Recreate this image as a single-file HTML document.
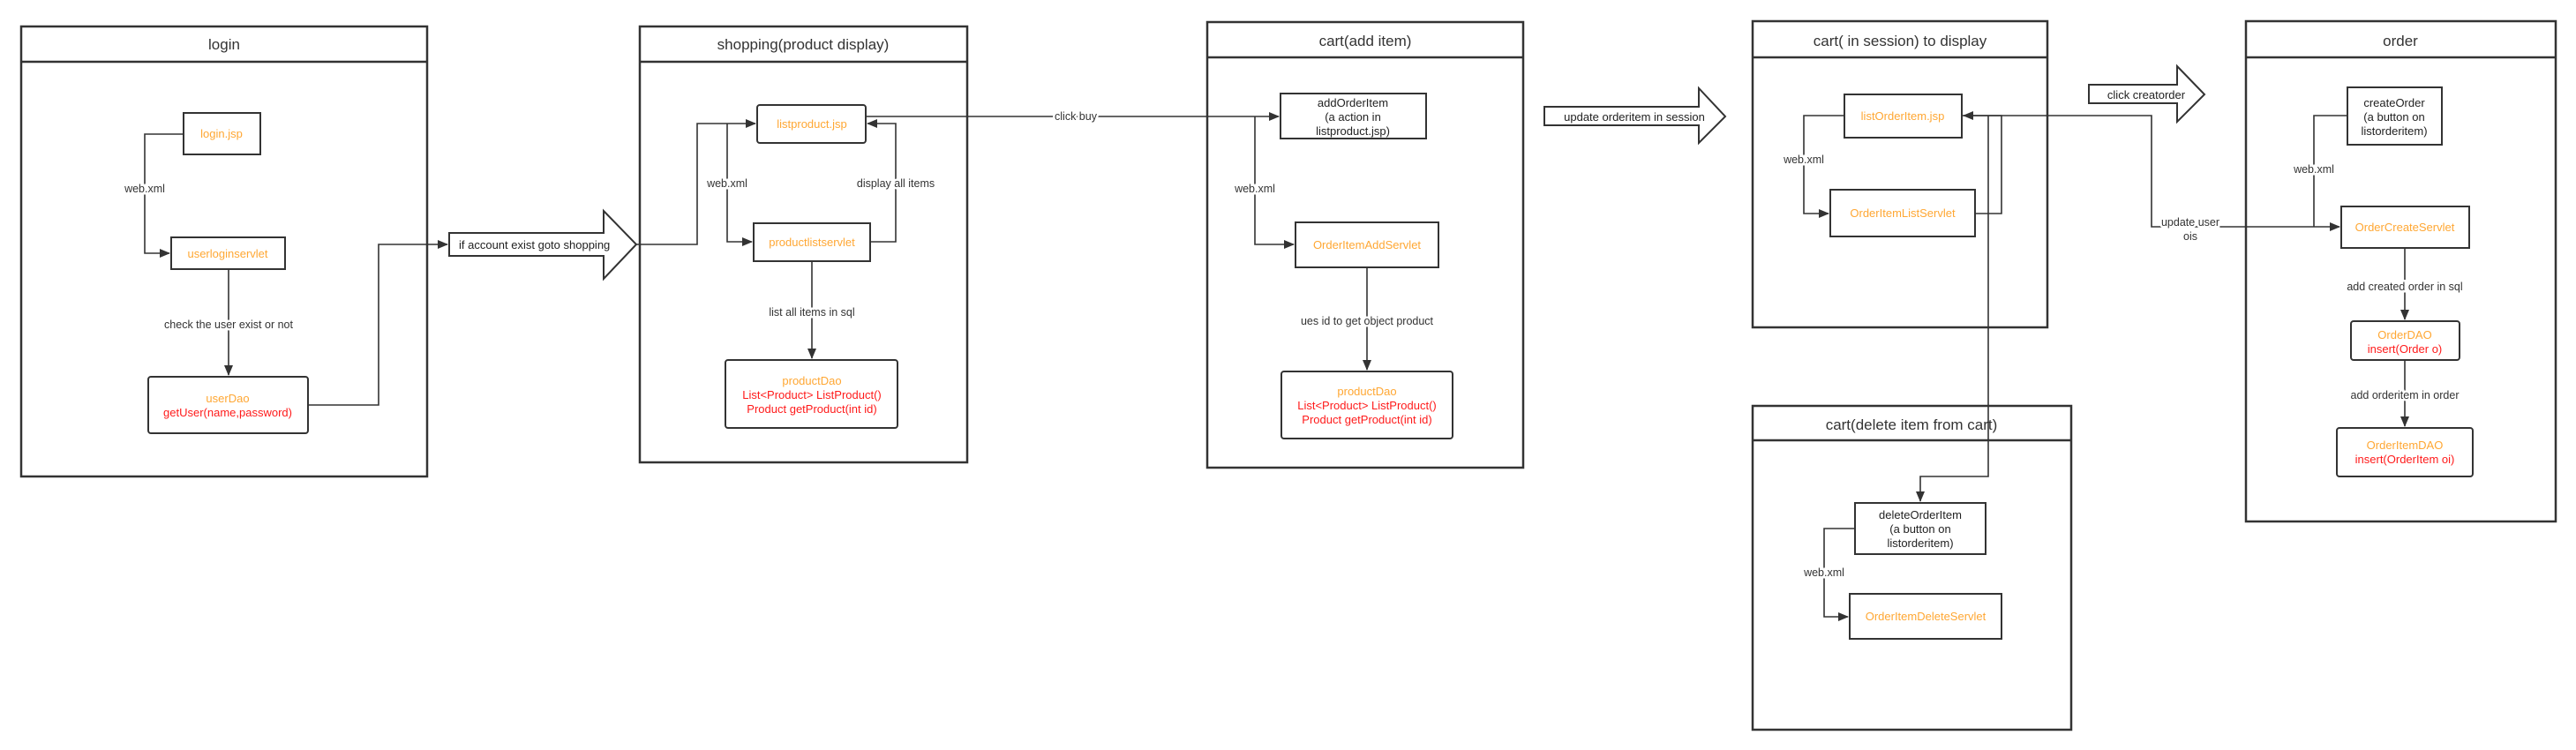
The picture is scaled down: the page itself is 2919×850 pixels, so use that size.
<!DOCTYPE html>
<html><head><meta charset="utf-8"><style>
html,body{margin:0;padding:0;background:#fff;width:2919px;height:850px;overflow:hidden}
svg text{font-family:"Liberation Sans",sans-serif}
.t{font-size:17px;fill:#333}
.l{font-size:12.5px;fill:#333;paint-order:stroke;stroke:#fff;stroke-width:5px}
.o{font-size:13px;fill:#ffa733}
.r{font-size:13px;fill:#ff1a1a}
.b{font-size:13px;fill:#222}
.p{fill:none;stroke:#333;stroke-width:2.5}
.n{fill:#fff;stroke:#333;stroke-width:2}
.c{fill:none;stroke:#333;stroke-width:1.6}
</style></head><body>
<svg width="2919" height="850" xmlns="http://www.w3.org/2000/svg">
<defs><marker id="a" markerWidth="12" markerHeight="10" refX="11" refY="5" orient="auto" markerUnits="userSpaceOnUse"><path d="M0,0 L12,5 L0,10 z" fill="#333"/></marker></defs>

<!-- panels -->
<rect class="p" x="24" y="30" width="460" height="510"/><line class="p" x1="24" y1="70" x2="484" y2="70"/>
<text class="t" x="254" y="56" text-anchor="middle">login</text>
<rect class="p" x="725" y="30" width="371" height="494"/><line class="p" x1="725" y1="70" x2="1096" y2="70"/>
<text class="t" x="910" y="56" text-anchor="middle">shopping(product display)</text>
<rect class="p" x="1368" y="25" width="358" height="505"/><line class="p" x1="1368" y1="65" x2="1726" y2="65"/>
<text class="t" x="1547" y="52" text-anchor="middle">cart(add item)</text>
<rect class="p" x="1986" y="24" width="334" height="347"/><line class="p" x1="1986" y1="65" x2="2320" y2="65"/>
<text class="t" x="2153" y="52" text-anchor="middle">cart( in session) to display</text>
<rect class="p" x="2545" y="24" width="351" height="567"/><line class="p" x1="2545" y1="65" x2="2896" y2="65"/>
<text class="t" x="2720" y="52" text-anchor="middle">order</text>
<rect class="p" x="1986" y="460" width="361" height="367"/><line class="p" x1="1986" y1="499" x2="2347" y2="499"/>
<text class="t" x="2166" y="487" text-anchor="middle">cart(delete item from cart)</text>

<!-- login -->
<rect class="n" x="208" y="128" width="87" height="47"/><text class="o" x="251" y="156" text-anchor="middle">login.jsp</text>
<rect class="n" x="194" y="269" width="129" height="36"/><text class="o" x="258" y="292" text-anchor="middle">userloginservlet</text>
<rect class="n" x="168" y="427" width="181" height="64" rx="3"/>
<text class="o" x="258" y="456" text-anchor="middle">userDao</text><text class="r" x="258" y="472" text-anchor="middle">getUser(name,password)</text>
<polyline class="c" points="208,152 164,152 164,287 192,287" marker-end="url(#a)"/>
<text class="l" x="164" y="218" text-anchor="middle">web.xml</text>
<line class="c" x1="259" y1="305" x2="259" y2="425" marker-end="url(#a)"/>
<text class="l" x="259" y="372" text-anchor="middle">check the user exist or not</text>
<polyline class="c" points="349,459 429,459 429,277 507,277" marker-end="url(#a)"/>
<path class="n" d="M509,264 L684,264 L684,239 L721,277 L684,316 L684,290 L509,290 Z"/>
<text class="b" x="520" y="282">if account exist goto shopping</text>
<polyline class="c" points="721,277 790,277 790,140 856,140" marker-end="url(#a)"/>

<!-- shopping -->
<rect class="n" x="858" y="119" width="123" height="43" rx="3"/><text class="o" x="920" y="145" text-anchor="middle">listproduct.jsp</text>
<rect class="n" x="854" y="253" width="132" height="43"/><text class="o" x="920" y="279" text-anchor="middle">productlistservlet</text>
<rect class="n" x="822" y="408" width="195" height="77" rx="3"/>
<text class="o" x="920" y="436" text-anchor="middle">productDao</text>
<text class="r" x="920" y="452" text-anchor="middle">List&lt;Product&gt; ListProduct()</text>
<text class="r" x="920" y="468" text-anchor="middle">Product getProduct(int id)</text>
<polyline class="c" points="824,140 824,274 852,274" marker-end="url(#a)"/>
<text class="l" x="824" y="212" text-anchor="middle">web.xml</text>
<polyline class="c" points="986,274 1015,274 1015,140 983,140" marker-end="url(#a)"/>
<text class="l" x="1015" y="212" text-anchor="middle">display all items</text>
<line class="c" x1="920" y1="296" x2="920" y2="406" marker-end="url(#a)"/>
<text class="l" x="920" y="358" text-anchor="middle">list all items in sql</text>
<polyline class="c" points="981,132 1449,132" marker-end="url(#a)"/>
<text class="l" x="1219" y="136" text-anchor="middle">click buy</text>

<!-- cart add -->
<rect class="n" x="1451" y="106" width="165" height="51"/>
<text class="b" x="1533" y="121" text-anchor="middle">addOrderItem</text>
<text class="b" x="1533" y="137" text-anchor="middle">(a action in</text>
<text class="b" x="1533" y="153" text-anchor="middle">listproduct.jsp)</text>
<rect class="n" x="1468" y="252" width="162" height="51"/><text class="o" x="1549" y="282" text-anchor="middle">OrderItemAddServlet</text>
<rect class="n" x="1452" y="421" width="194" height="76" rx="3"/>
<text class="o" x="1549" y="448" text-anchor="middle">productDao</text>
<text class="r" x="1549" y="464" text-anchor="middle">List&lt;Product&gt; ListProduct()</text>
<text class="r" x="1549" y="480" text-anchor="middle">Product getProduct(int id)</text>
<polyline class="c" points="1422,132 1422,277 1466,277" marker-end="url(#a)"/>
<text class="l" x="1422" y="218" text-anchor="middle">web.xml</text>
<line class="c" x1="1549" y1="303" x2="1549" y2="419" marker-end="url(#a)"/>
<text class="l" x="1549" y="368" text-anchor="middle">ues id to get object product</text>
<path class="n" d="M1750,121 L1925,121 L1925,100 L1955,132 L1925,162 L1925,142 L1750,142 Z"/>
<text class="b" x="1852" y="137" text-anchor="middle">update orderitem in session</text>

<!-- cart session -->
<rect class="n" x="2090" y="107" width="133" height="49"/><text class="o" x="2156" y="136" text-anchor="middle">listOrderItem.jsp</text>
<rect class="n" x="2074" y="215" width="164" height="53"/><text class="o" x="2156" y="246" text-anchor="middle">OrderItemListServlet</text>
<polyline class="c" points="2090,131 2044,131 2044,242 2072,242" marker-end="url(#a)"/>
<text class="l" x="2044" y="185" text-anchor="middle">web.xml</text>
<polyline class="c" points="2238,242 2268,242 2268,131 2225,131" marker-end="url(#a)"/>
<polyline class="c" points="2253,131 2253,540 2176,540 2176,568" marker-end="url(#a)"/>
<polyline class="c" points="2223,131 2438,131 2438,257 2651,257" marker-end="url(#a)"/>
<text class="l" x="2482" y="256" text-anchor="middle">update user</text>
<text class="l" x="2482" y="272" text-anchor="middle">ois</text>
<path class="n" d="M2367,96 L2467,96 L2467,75 L2498,107 L2467,138 L2467,117 L2367,117 Z"/>
<text class="b" x="2432" y="112" text-anchor="middle">click creatorder</text>

<!-- order -->
<rect class="n" x="2660" y="99" width="107" height="65"/>
<text class="b" x="2713" y="121" text-anchor="middle">createOrder</text>
<text class="b" x="2713" y="137" text-anchor="middle">(a button on</text>
<text class="b" x="2713" y="153" text-anchor="middle">listorderitem)</text>
<rect class="n" x="2653" y="234" width="145" height="47"/><text class="o" x="2725" y="262" text-anchor="middle">OrderCreateServlet</text>
<rect class="n" x="2664" y="364" width="123" height="44" rx="3"/>
<text class="o" x="2725" y="384" text-anchor="middle">OrderDAO</text><text class="r" x="2725" y="400" text-anchor="middle">insert(Order o)</text>
<rect class="n" x="2648" y="485" width="154" height="55" rx="3"/>
<text class="o" x="2725" y="509" text-anchor="middle">OrderItemDAO</text><text class="r" x="2725" y="525" text-anchor="middle">insert(OrderItem oi)</text>
<polyline class="c" points="2660,131 2622,131 2622,257" />
<text class="l" x="2622" y="196" text-anchor="middle">web.xml</text>
<line class="c" x1="2725" y1="281" x2="2725" y2="362" marker-end="url(#a)"/>
<text class="l" x="2725" y="329" text-anchor="middle">add created order in sql</text>
<line class="c" x1="2725" y1="408" x2="2725" y2="483" marker-end="url(#a)"/>
<text class="l" x="2725" y="452" text-anchor="middle">add orderitem in order</text>

<!-- cart delete -->
<rect class="n" x="2102" y="570" width="148" height="58"/>
<text class="b" x="2176" y="588" text-anchor="middle">deleteOrderItem</text>
<text class="b" x="2176" y="604" text-anchor="middle">(a button on</text>
<text class="b" x="2176" y="620" text-anchor="middle">listorderitem)</text>
<rect class="n" x="2096" y="673" width="172" height="51"/><text class="o" x="2182" y="703" text-anchor="middle">OrderItemDeleteServlet</text>
<polyline class="c" points="2102,599 2067,599 2067,699 2094,699" marker-end="url(#a)"/>
<text class="l" x="2067" y="653" text-anchor="middle">web.xml</text>
</svg>
</body></html>
